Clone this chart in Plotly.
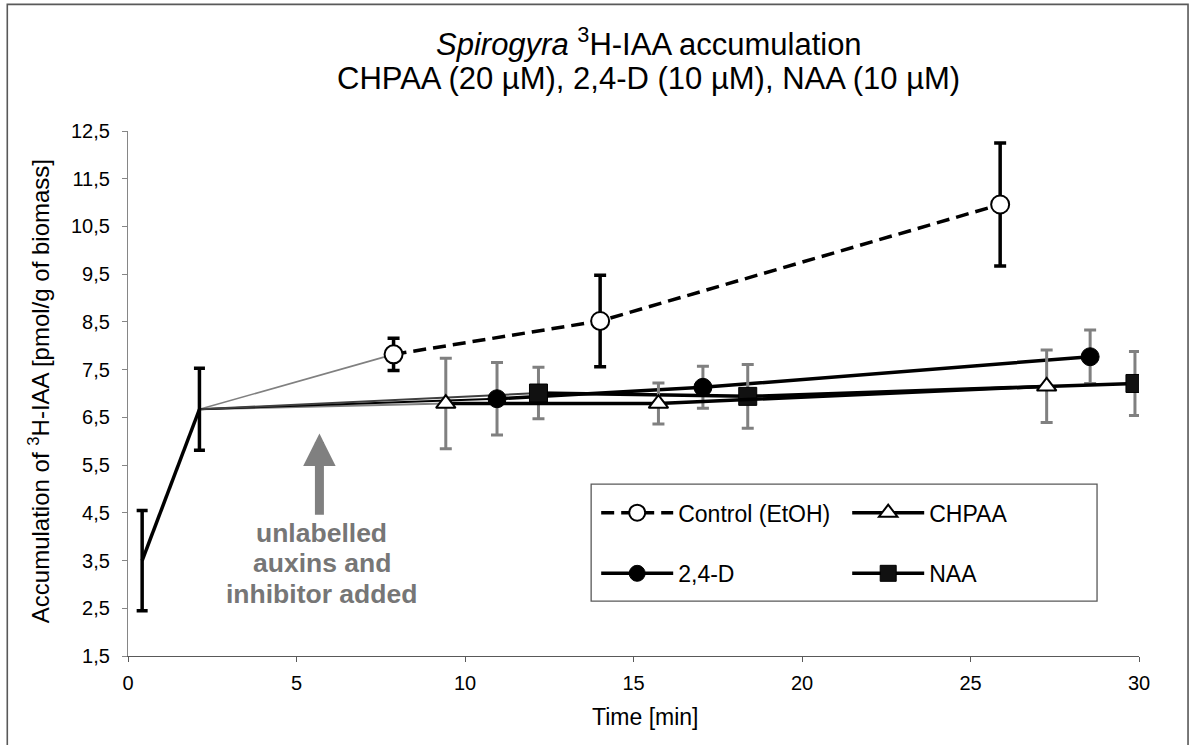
import plotly.graph_objects as go

# ---------------- data ----------------
init_t = [0.42, 2.12]
init_y = [3.50, 6.67]
init_err = [1.05, 0.86]

ctrl_t = [7.88, 14.01, 25.88]
ctrl_y = [7.82, 8.52, 10.96]
ctrl_err = [0.34, 0.96, 1.29]

chpaa_t = [9.43, 15.74, 27.26]
chpaa_y = [6.79, 6.79, 7.15]
chpaa_err = [0.95, 0.43, 0.76]

d24_t = [10.95, 17.06, 28.55]
d24_y = [6.89, 7.13, 7.77]
d24_err = [0.76, 0.44, 0.56]

naa_t = [12.18, 18.39, 29.88]
naa_y = [7.01, 6.94, 7.21]
naa_err = [0.54, 0.67, 0.67]

x_ticks = [0, 5, 10, 15, 20, 25, 30]
y_ticks = [1.5, 2.5, 3.5, 4.5, 5.5, 6.5, 7.5, 8.5, 9.5, 10.5, 11.5, 12.5]
y_tick_labels = ["1,5", "2,5", "3,5", "4,5", "5,5", "6,5", "7,5", "8,5", "9,5", "10,5", "11,5", "12,5"]

# annotation text lines and positions (data units)
note_lines = ["unlabelled", "auxins and", "inhibitor added"]
note_line_y = [4.08, 3.44, 2.80]
note_x = 5.755
arrow_x = 5.68
arrow_tip_y = 6.16
arrow_tail_y = 4.43

FONT = "Liberation Sans, Arial, sans-serif"
GRAY = "#808080"

fig = go.Figure()

# connectors from last common point to each series' first point
for t, y, col, w in [(ctrl_t, ctrl_y, GRAY, 1.6),
                     (chpaa_t, chpaa_y, GRAY, 2.0),
                     (d24_t, d24_y, "#000000", 2.0),
                     (naa_t, naa_y, "#404040", 2.0)]:
    fig.add_trace(go.Scatter(x=[init_t[-1], t[0]], y=[init_y[-1], y[0]], mode="lines",
                             line=dict(color=col, width=w), showlegend=False, hoverinfo="skip"))

# initial (common) segment
fig.add_trace(go.Scatter(x=init_t, y=init_y, mode="lines",
                         line=dict(color="black", width=3.5),
                         error_y=dict(type="data", array=init_err, color="black", thickness=3.5, width=5.5),
                         showlegend=False, hoverinfo="skip"))

# Control
fig.add_trace(go.Scatter(x=ctrl_t, y=ctrl_y, mode="lines+markers", name="Control (EtOH)",
                         line=dict(color="black", width=3.5, dash="13px,7px"),
                         marker=dict(symbol="circle", size=18, color="white", line=dict(color="black", width=2)),
                         error_y=dict(type="data", array=ctrl_err, color="black", thickness=3.5, width=6),
                         legend="legend"))

# 2,4-D
fig.add_trace(go.Scatter(x=d24_t, y=d24_y, mode="lines+markers", name="2,4-D",
                         line=dict(color="black", width=3.5),
                         marker=dict(symbol="circle", size=18, color="black", line=dict(color="black", width=1)),
                         error_y=dict(type="data", array=d24_err, color=GRAY, thickness=3, width=6),
                         legend="legend2"))

# NAA
fig.add_trace(go.Scatter(x=naa_t, y=naa_y, mode="lines+markers", name="NAA",
                         line=dict(color="black", width=3.5),
                         marker=dict(symbol="square", size=18, color="#111111", line=dict(color="black", width=1)),
                         error_y=dict(type="data", array=naa_err, color=GRAY, thickness=3, width=6),
                         legend="legend2"))

# CHPAA
fig.add_trace(go.Scatter(x=chpaa_t, y=chpaa_y, mode="lines+markers", name="CHPAA",
                         line=dict(color="black", width=3.5),
                         marker=dict(symbol="triangle-up", size=17, color="white", line=dict(color="black", width=2)),
                         error_y=dict(type="data", array=chpaa_err, color=GRAY, thickness=3, width=6),
                         legend="legend"))

leg_common = dict(orientation="h", xanchor="left", yanchor="middle", bgcolor="rgba(0,0,0,0)",
                  borderwidth=0, font=dict(family=FONT, size=23, color="black"),
                  itemwidth=72, entrywidth=164, entrywidthmode="pixels", itemclick=False,
                  itemdoubleclick=False)

annotations = [
    dict(xref="paper", yref="paper", x=0.515, y=1.1688, xanchor="center", yanchor="middle",
         text="<i>Spirogyra</i> <sup>3</sup>H-IAA accumulation", showarrow=False,
         font=dict(family=FONT, size=31, color="black")),
    dict(xref="paper", yref="paper", x=0.515, y=1.1003, xanchor="center", yanchor="middle",
         text="CHPAA (20 µM), 2,4-D (10 µM), NAA (10 µM)", showarrow=False,
         font=dict(family=FONT, size=31, color="black")),
    dict(xref="paper", yref="paper", x=0.5115, y=-0.1156, xanchor="center", yanchor="middle",
         text="Time [min]", showarrow=False, font=dict(family=FONT, size=23, color="black")),
    dict(xref="paper", yref="paper", x=-0.0885, y=0.5035, xanchor="center", yanchor="middle",
         text="Accumulation of <sup>3</sup>H-IAA [pmol/g of biomass]", textangle=-90, showarrow=False,
         font=dict(family=FONT, size=24, color="black")),
    dict(xref="x", yref="y", x=arrow_x, y=arrow_tip_y, axref="x", ayref="y", ax=arrow_x, ay=arrow_tail_y,
         text="", showarrow=True, arrowhead=2, arrowsize=0.72, arrowwidth=9, arrowcolor=GRAY),
]
for txt, yy in zip(note_lines, note_line_y):
    annotations.append(dict(xref="x", yref="y", x=note_x, y=yy, xanchor="center", yanchor="middle",
                            text="<b>" + txt + "</b>", showarrow=False,
                            font=dict(family=FONT, size=26.5, color="#767676")))

fig.update_layout(
    width=1195, height=745,
    margin=dict(l=128, r=56, t=131, b=89),
    paper_bgcolor="white", plot_bgcolor="white",
    font=dict(family=FONT, color="black"),
    showlegend=True,
    legend=dict(x=0.4631, y=0.2728, **leg_common),
    legend2=dict(x=0.4631, y=0.1574, **leg_common),
    xaxis=dict(range=[0, 30], tickvals=x_ticks, ticks="outside", ticklen=5, tickcolor="#595959",
               showline=True, linecolor="#595959", linewidth=1.3, showgrid=False, zeroline=False,
               tickfont=dict(size=20, family=FONT, color="black"), ticklabelstandoff=4),
    yaxis=dict(range=[1.5, 12.5], tickvals=y_ticks, ticktext=y_tick_labels, ticks="outside", ticklen=5,
               tickcolor="#868686", showline=True, linecolor="#868686", linewidth=1.3, showgrid=False,
               zeroline=False, tickfont=dict(size=20, family=FONT, color="black"), ticklabelstandoff=8),
    shapes=[
        # legend frame
        dict(type="rect", xref="paper", yref="paper", x0=0.4581, x1=0.9585, y0=0.1047, y1=0.3274,
             line=dict(color="#595959", width=1.3), fillcolor="rgba(0,0,0,0)", layer="below"),
        # chart-area frame
        dict(type="rect", xref="paper", yref="paper", x0=-0.1194, x1=1.0485, y0=-0.19, y1=1.2412,
             line=dict(color="#595959", width=1.6), fillcolor="rgba(0,0,0,0)", layer="above"),
    ],
    annotations=annotations,
)

fig.write_html("out.html")
